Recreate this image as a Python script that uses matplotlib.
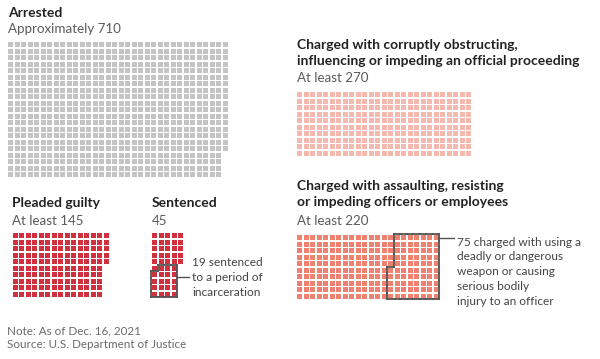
import matplotlib.pyplot as plt
from matplotlib.patches import Rectangle
from matplotlib.collections import LineCollection

# %%
# data
group_titles = ["Arrested",
                "Charged with corruptly obstructing,\ninfluencing or impeding an official proceeding",
                "Pleaded guilty",
                "Sentenced",
                "Charged with assaulting, resisting\nor impeding officers or employees"]
group_subtitles = ["Approximately 710", "At least 270", "At least 145", "45", "At least 220"]
group_counts = [710, 270, 145, 45, 220]
highlight_counts = [0, 0, 0, 19, 75]
highlight_notes = [None, None, None,
                   "19 sentenced\nto a period of\nincarceration",
                   "75 charged with using a\ndeadly or dangerous\nweapon or causing\nserious bodily\ninjury to an officer"]
note_text = "Note: As of Dec. 16, 2021"
source_text = "Source: U.S. Department of Justice"

# %%
# layout (pixels, y down)
PITCH = 6.5
SQ = 5.0
rows_per_grid = [21, 10, 10, 10, 10]
grid_origin = [(8.3, 42), (297, 92), (12.7, 233), (152, 233), (297, 235)]
title_pos = [(8.5, 13), (297, 45), (12.5, 203), (152, 203), (297, 186)]
sub_y = [29, 78, 221, 221, 221]
colors = ["#c4c4c4", "#f4b8ae", "#d1313f", "#d1313f", "#ef8170"]
hl_order = [None, None, None, "row", "col"]
note_pos = [None, None, None, (192, 263), (457, 242)]
leader_y = [None, None, None, 277, 237.5]

plt.rcParams['font.family'] = ['Lato', 'DejaVu Sans']
fig = plt.figure(figsize=(6, 3.59), dpi=100)
ax = fig.add_axes([0, 0, 1, 1])
ax.set_xlim(0, 600)
ax.set_ylim(359, 0)
ax.axis("off")

TITLE_FS = 10.0
SUB_FS = 9.6
LINE_H = 16.0


def grid_cells(n, rows):
    # filled column by column, top to bottom
    return [(i // rows, i % rows) for i in range(n)]


for k in range(len(group_counts)):
    x0, y0 = grid_origin[k]
    cells = grid_cells(group_counts[k], rows_per_grid[k])
    for c, r in cells:
        ax.add_patch(Rectangle((x0 + c * PITCH, y0 + r * PITCH), SQ, SQ,
                               facecolor=colors[k], edgecolor="none"))

    tx, ty = title_pos[k]
    for j, line in enumerate(group_titles[k].split("\n")):
        ax.text(tx, ty + j * LINE_H, line, fontsize=TITLE_FS, fontweight="bold",
                color="#222222", va="center", ha="left")
    ax.text(tx, sub_y[k], group_subtitles[k], fontsize=SUB_FS, color="#5a5a5a",
            va="center", ha="left")

    if highlight_counts[k]:
        if hl_order[k] == "row":
            ordered = sorted(cells, key=lambda cr: (cr[1], cr[0]))
        else:
            ordered = cells
        hl = set(ordered[-highlight_counts[k]:])
        half = (PITCH - SQ) / 2
        segs = []
        for c, r in hl:
            left = x0 + c * PITCH - half
            top = y0 + r * PITCH - half
            right = left + PITCH
            bottom = top + PITCH
            if (c - 1, r) not in hl:
                segs.append([(left, top), (left, bottom)])
            if (c + 1, r) not in hl:
                segs.append([(right, top), (right, bottom)])
            if (c, r - 1) not in hl:
                segs.append([(left, top), (right, top)])
            if (c, r + 1) not in hl:
                segs.append([(left, bottom), (right, bottom)])
        ax.add_collection(LineCollection(segs, colors="#555555", linewidths=1.3,
                                         capstyle="projecting"))
        box_right = max(seg[0][0] for seg in segs if seg[0][0] == seg[1][0])
        nx, ny = note_pos[k]
        ax.plot([box_right, nx - 3], [leader_y[k], leader_y[k]], color="#555555", lw=1)
        for j, line in enumerate(highlight_notes[k].split("\n")):
            ax.text(nx, ny + j * 14.8, line, fontsize=8.6, color="#444444",
                    va="center", ha="left")

ax.text(7, 331, note_text, fontsize=8.4, color="#6a6a6a", va="center", ha="left")
ax.text(7, 345, source_text, fontsize=8.4, color="#6a6a6a", va="center", ha="left")

fig.savefig("out.png", dpi=100)
